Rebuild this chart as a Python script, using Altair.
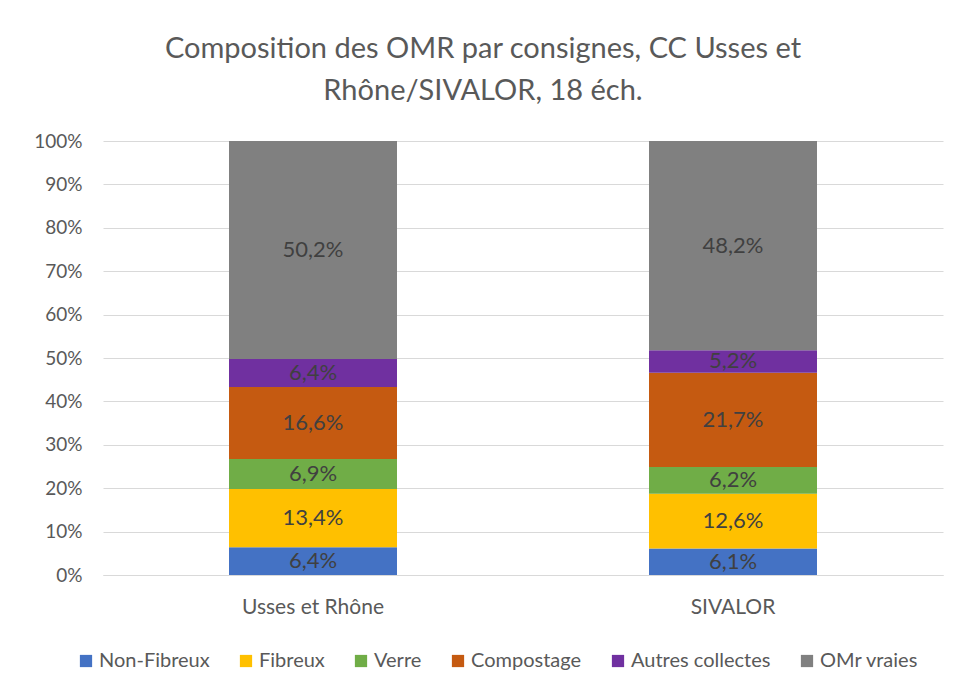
import altair as alt
import pandas as pd

categories = ["Usses et Rhône", "SIVALOR"]
series = ["Non-Fibreux", "Fibreux", "Verre", "Compostage", "Autres collectes", "OMr vraies"]
colors = ["#4472C4", "#FFC000", "#70AD47", "#C55A11", "#7030A0", "#808080"]
usses = [6.4, 13.4, 6.9, 16.6, 6.4, 50.2]
sivalor = [6.1, 12.6, 6.2, 21.7, 5.2, 48.2]

rows = []
for cat, vals in zip(categories, [usses, sivalor]):
    for i, (s, v) in enumerate(zip(series, vals)):
        rows.append({"cat": cat, "serie": s, "v": v, "ord": i})
df = pd.DataFrame(rows)

FONT = "Lato"

base = alt.Chart(df)

x = alt.X("cat:N", sort=categories, title=None,
          scale=alt.Scale(paddingInner=0.6, paddingOuter=0.3),
          axis=alt.Axis(labelAngle=0, labelFontSize=21, labelColor="#595959",
                        labelFont=FONT, ticks=False, domainColor="#D9D9D9",
                        labelPadding=21, domainWidth=1))

bars = base.mark_bar().encode(
    x=x,
    y=alt.Y("v:Q", stack="normalize", title=None,
            scale=alt.Scale(domain=[0, 1]),
            axis=alt.Axis(format=".0%", values=[i / 10 for i in range(11)],
                          labelFontSize=19, labelColor="#595959", labelFont=FONT,
                          ticks=False, domain=False, gridColor="#D9D9D9",
                          labelPadding=21)),
    color=alt.Color("serie:N", sort=series,
                    scale=alt.Scale(domain=series, range=colors),
                    legend=alt.Legend(title=None, orient="none", direction="horizontal",
                                      legendX=-27, legendY=510, symbolType="square",
                                      symbolSize=150, symbolStrokeWidth=0,
                                      labelFontSize=20, labelColor="#595959",
                                      labelFont=FONT, columnPadding=26,
                                      labelOffset=3)),
    order=alt.Order("ord:Q"),
)

labels = base.transform_joinaggregate(
    total="sum(v)", groupby=["cat"]
).transform_window(
    cum="sum(v)", sort=[alt.SortField("ord")], groupby=["cat"],
    frame=[None, 0]
).transform_calculate(
    mid="(datum.cum - datum.v / 2) / datum.total",
    label="replace(format(datum.v, '.1f'), '.', ',') + '%'"
).mark_text(fontSize=22, color="#404040", font=FONT).encode(
    x=alt.X("cat:N", sort=categories),
    y=alt.Y("mid:Q"),
    text="label:N",
)

chart = (bars + labels).properties(
    width=840, height=434,
    autosize=alt.AutoSizeParams(type="none"),
    padding={"left": 95, "top": 133, "right": 8, "bottom": 110},
    title=alt.TitleParams(
        text=["Composition des OMR par consignes, CC Usses et", "Rhône/SIVALOR, 18 éch."],
        fontSize=29, font=FONT, fontWeight="normal", color="#595959",
        anchor="middle", dx=-40, offset=26, lineHeight=42,
    ),
).configure_view(stroke=None)

chart.save("out.html", embed_options={"renderer": "svg", "actions": False})
